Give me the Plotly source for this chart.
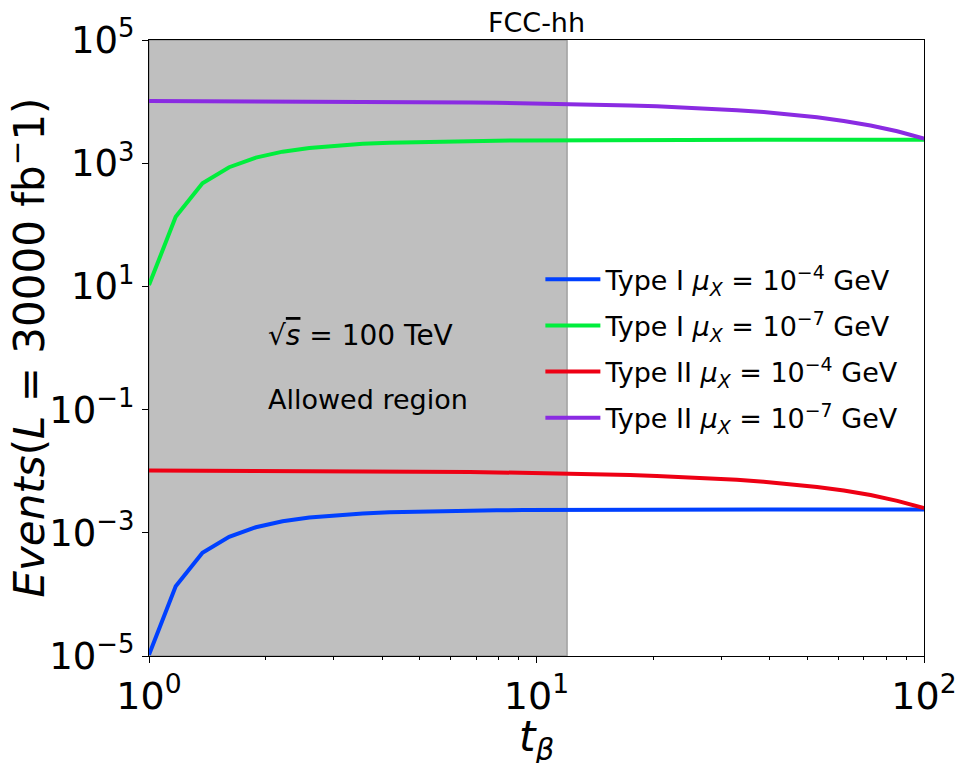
import plotly.graph_objects as go

# t_beta sample points
t_beta = [1.0, 1.172, 1.374, 1.610, 1.887, 2.212, 2.593, 3.039, 3.562, 4.175,
          4.894, 5.736, 6.723, 7.880, 9.237, 10.83, 12.69, 14.87, 17.43, 20.43,
          23.95, 28.07, 32.90, 38.57, 45.20, 52.98, 62.10, 72.79, 85.32, 100.0]

# Type I, mu_X = 1e-7 GeV
type1_mu7 = [10.5, 135, 474, 860, 1230, 1540, 1770, 1940, 2060, 2150,
             2210, 2260, 2295, 2320, 2340, 2355, 2365, 2373, 2379, 2384,
             2388, 2391, 2393, 2395, 2396, 2397, 2398, 2399, 2399, 2400]
# Type I, mu_X = 1e-4 GeV
type1_mu4 = [1.05e-5, 1.35e-4, 4.74e-4, 8.60e-4, 1.23e-3, 1.54e-3, 1.77e-3, 1.94e-3, 2.06e-3, 2.15e-3,
             2.21e-3, 2.26e-3, 2.295e-3, 2.32e-3, 2.34e-3, 2.355e-3, 2.365e-3, 2.373e-3, 2.379e-3, 2.384e-3,
             2.388e-3, 2.391e-3, 2.393e-3, 2.395e-3, 2.396e-3, 2.397e-3, 2.398e-3, 2.399e-3, 2.399e-3, 2.4e-3]
# Type II, mu_X = 1e-7 GeV
type2_mu7 = [10260, 10240, 10220, 10200, 10170, 10140, 10100, 10060, 10000, 9940,
             9870, 9780, 9690, 9570, 9440, 9280, 9100, 8900, 8660, 8380,
             8060, 7680, 7250, 6750, 6180, 5550, 4850, 4100, 3300, 2520]
# Type II, mu_X = 1e-4 GeV
type2_mu4 = [1.026e-2, 1.024e-2, 1.022e-2, 1.020e-2, 1.017e-2, 1.014e-2, 1.010e-2, 1.006e-2, 1.000e-2, 9.94e-3,
             9.87e-3, 9.78e-3, 9.69e-3, 9.57e-3, 9.44e-3, 9.28e-3, 9.10e-3, 8.90e-3, 8.66e-3, 8.38e-3,
             8.06e-3, 7.68e-3, 7.25e-3, 6.75e-3, 6.18e-3, 5.55e-3, 4.85e-3, 4.10e-3, 3.30e-3, 2.52e-3]

allowed_max = 12.0

x_ticks = [1, 10, 100]
x_ticktext = ["10<sup>0</sup>", "10<sup>1</sup>", "10<sup>2</sup>"]
x_minor = [2, 3, 4, 5, 6, 7, 8, 9, 20, 30, 40, 50, 60, 70, 80, 90]
y_ticks = [1e-5, 1e-3, 1e-1, 1e1, 1e3, 1e5]
y_ticktext = ["10<sup>−5</sup>", "10<sup>−3</sup>", "10<sup>−1</sup>",
              "10<sup>1</sup>", "10<sup>3</sup>", "10<sup>5</sup>"]

series = [
    ("Type I <i>μ<sub>X</sub></i> = 10<sup>−4</sup> GeV", type1_mu4, "#0040ff"),
    ("Type I <i>μ<sub>X</sub></i> = 10<sup>−7</sup> GeV", type1_mu7, "#00ee3c"),
    ("Type II <i>μ<sub>X</sub></i> = 10<sup>−4</sup> GeV", type2_mu4, "#ee0014"),
    ("Type II <i>μ<sub>X</sub></i> = 10<sup>−7</sup> GeV", type2_mu7, "#8a2be2"),
]

fig = go.Figure()
for i, (name, vals, col) in enumerate(series):
    fig.add_trace(go.Scatter(x=t_beta, y=vals, mode="lines", name=name,
                             legendgroup="g%d" % i,
                             line=dict(color=col, width=4)))

# allowed region
fig.add_shape(type="rect", xref="x", yref="paper", x0=t_beta[0], x1=allowed_max,
              y0=0, y1=1, fillcolor="rgba(128,128,128,0.5)",
              line=dict(color="rgba(128,128,128,0.6)", width=1.5), layer="below")

fig.add_annotation(x=0.301, y=0.2, xref="x", yref="y", xanchor="left", yanchor="middle",
                   text="√<span style='text-decoration:overline'><i>s</i></span> = 100 TeV",
                   showarrow=False, font=dict(size=28, color="black"))
fig.add_annotation(x=0.301, y=-0.84, xref="x", yref="y", xanchor="left", yanchor="middle",
                   text="Allowed region", showarrow=False,
                   font=dict(size=27, color="black"))

# axis titles as annotations so they sit where the reference puts them
fig.add_annotation(x=-0.158, y=0.5, xref="paper", yref="paper", xanchor="center", yanchor="middle",
                   textangle=-90, showarrow=False,
                   text="<i>Events</i>(<i>L</i> = 30000 fb<sup>−</sup>1)",
                   font=dict(size=42, color="black"))
fig.add_annotation(x=0.5, y=-0.135, xref="paper", yref="paper", xanchor="center", yanchor="middle",
                   showarrow=False, text="<i>t<sub>β</sub></i>",
                   font=dict(size=42, color="black"))

fig.update_layout(
    width=964, height=763,
    margin=dict(l=141, r=48, t=32, b=115),
    plot_bgcolor="white", paper_bgcolor="white",
    font=dict(family="DejaVu Sans", color="black"),
    title=dict(text="FCC-hh", x=0.5, xref="paper", xanchor="center",
               y=0.981, yanchor="middle", font=dict(size=27)),
    showlegend=True,
    legend=dict(x=0.505, y=0.6505, xanchor="left", yanchor="top",
                bgcolor="rgba(0,0,0,0)", font=dict(size=27),
                tracegroupgap=8, itemwidth=55),
)
fig.update_xaxes(type="log", range=[0, 2], showgrid=False, zeroline=False,
                 showline=True, linecolor="black", linewidth=1.2, mirror=True,
                 ticks="outside", ticklen=6, tickcolor="black", automargin=False,
                 tickvals=x_ticks, ticktext=x_ticktext, tickfont=dict(size=38),
                 minor=dict(tickvals=x_minor, ticks="outside", ticklen=3, tickcolor="black"))
fig.update_yaxes(type="log", range=[-5, 5], showgrid=False, zeroline=False,
                 showline=True, linecolor="black", linewidth=1.2, mirror=True,
                 ticks="outside", ticklen=6, tickcolor="black", automargin=False,
                 tickvals=y_ticks, ticktext=y_ticktext, tickfont=dict(size=37))

fig.write_html("out.html")
